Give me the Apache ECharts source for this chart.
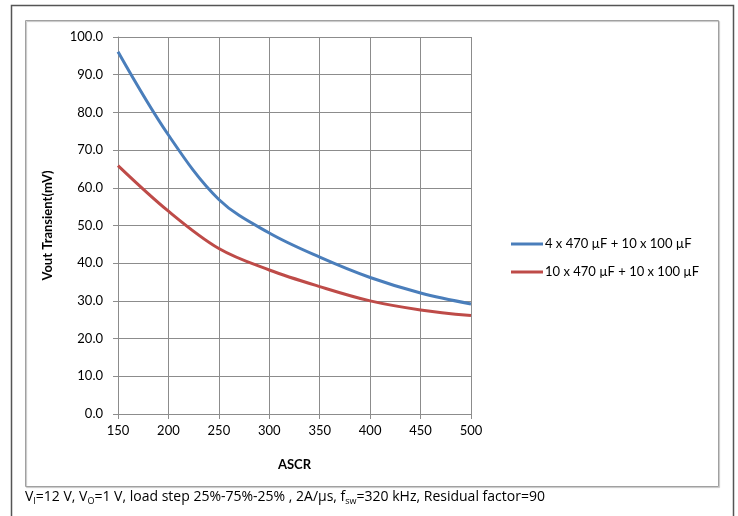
<!DOCTYPE html>
<html>
<head>
<meta charset="utf-8">
<script src="https://cdn.jsdelivr.net/npm/echarts@6/dist/echarts.min.js"></script>
<style>
  html, body { margin: 0; padding: 0; background: #fff; }
  #chart { width: 738px; height: 516px; }
</style>
</head>
<body>
<div id="chart"></div>
<script>
// data
var ascr = [150, 200, 250, 300, 350, 400, 450, 500];
var vout4x470 = [96.1, 74.0, 56.9, 48.0, 41.6, 36.2, 32.1, 29.2];
var vout10x470 = [65.9, 53.8, 43.9, 38.2, 33.8, 30.0, 27.6, 26.1];
var seriesNames = ['4 x 470 µF + 10 x 100 µF', '10 x 470 µF + 10 x 100 µF'];
var seriesColors = ['#4a7ebb', '#be4b48'];

var gridColor = '#8c8c8c';
var tickFont = 'Lato, "Liberation Sans", sans-serif';

function pairs(xs, ys) {
  var out = [];
  for (var i = 0; i < xs.length; i++) {
    out.push([xs[i], ys[i]]);
  }
  return out;
}

var chart = echarts.init(document.getElementById('chart'), null, { renderer: 'canvas' });

var option = {
  backgroundColor: '#fff',
  animation: false,
  grid: {
    left: 118,
    right: 267,
    top: 37,
    bottom: 102
  },
  xAxis: {
    type: 'value',
    min: 150,
    max: 500,
    interval: 50,
    name: 'ASCR',
    nameLocation: 'middle',
    nameGap: 44,
    nameTextStyle: { fontFamily: tickFont, fontWeight: 'bold', fontSize: 13, color: '#000' },
    axisLine: { lineStyle: { color: gridColor, width: 1 } },
    axisTick: { show: true, length: 5, lineStyle: { color: gridColor } },
    axisLabel: { fontFamily: tickFont, fontSize: 13, color: '#000', margin: 10 },
    splitLine: { show: true, lineStyle: { color: gridColor, width: 1 } }
  },
  yAxis: {
    type: 'value',
    min: 0,
    max: 100,
    interval: 10,
    name: 'Vout Transient(mV)',
    nameLocation: 'middle',
    nameRotate: 90,
    nameGap: 64,
    nameTextStyle: { fontFamily: tickFont, fontWeight: 'bold', fontSize: 13, color: '#000' },
    axisLine: { show: true, lineStyle: { color: gridColor, width: 1 } },
    axisTick: { show: true, length: 5, lineStyle: { color: gridColor } },
    axisLabel: {
      fontFamily: tickFont, fontSize: 13, color: '#000', margin: 15,
      formatter: function (v) { return v.toFixed(1); }
    },
    splitLine: { show: true, lineStyle: { color: gridColor, width: 1 } }
  },
  legend: {
    orient: 'vertical',
    left: 506,
    top: 230,
    itemWidth: 32,
    itemHeight: 3,
    itemGap: 10,
    icon: 'rect',
    textStyle: { fontFamily: tickFont, fontSize: 13, color: '#000', lineHeight: 18, padding: [0, 0, 0, -3] },
    data: seriesNames
  },
  series: [
    {
      name: seriesNames[0],
      type: 'line',
      data: pairs(ascr, vout4x470),
      smooth: 0.35,
      symbol: 'none',
      lineStyle: { color: seriesColors[0], width: 3 },
      itemStyle: { color: seriesColors[0] }
    },
    {
      name: seriesNames[1],
      type: 'line',
      data: pairs(ascr, vout10x470),
      smooth: 0.35,
      symbol: 'none',
      lineStyle: { color: seriesColors[1], width: 3 },
      itemStyle: { color: seriesColors[1] }
    }
  ],
  graphic: [
    // outer frame, open at the bottom
    {
      type: 'polyline',
      silent: true,
      shape: { points: [[11.5, 520], [11.5, 5.5], [733.5, 5.5], [733.5, 520]] },
      style: { stroke: '#555', lineWidth: 1.5, fill: null }
    },
    // chart area frame
    {
      type: 'rect',
      silent: true,
      shape: { x: 25.5, y: 20.5, width: 693, height: 466 },
      style: { stroke: '#a0a0a0', lineWidth: 1, fill: null, shadowColor: 'rgba(0,0,0,0.25)', shadowBlur: 1, shadowOffsetX: 1, shadowOffsetY: 1 }
    },
    // footnote under the chart
    {
      type: 'text',
      silent: true,
      left: 25,
      top: 490,
      style: {
        text: 'V{sub|I}=12 V, V{sub|O}=1 V, load step 25%-75%-25% , 2A/µs, f{sub|sw}=320 kHz, Residual factor=90',
        fontFamily: '"Open Sans", sans-serif',
        fontSize: 14,
        fill: '#000',
        rich: {
          sub: { fontSize: 9, verticalAlign: 'bottom', lineHeight: 18, fontFamily: '"Open Sans", sans-serif', fill: '#000' }
        }
      }
    }
  ]
};

chart.setOption(option);
</script>
</body>
</html>
